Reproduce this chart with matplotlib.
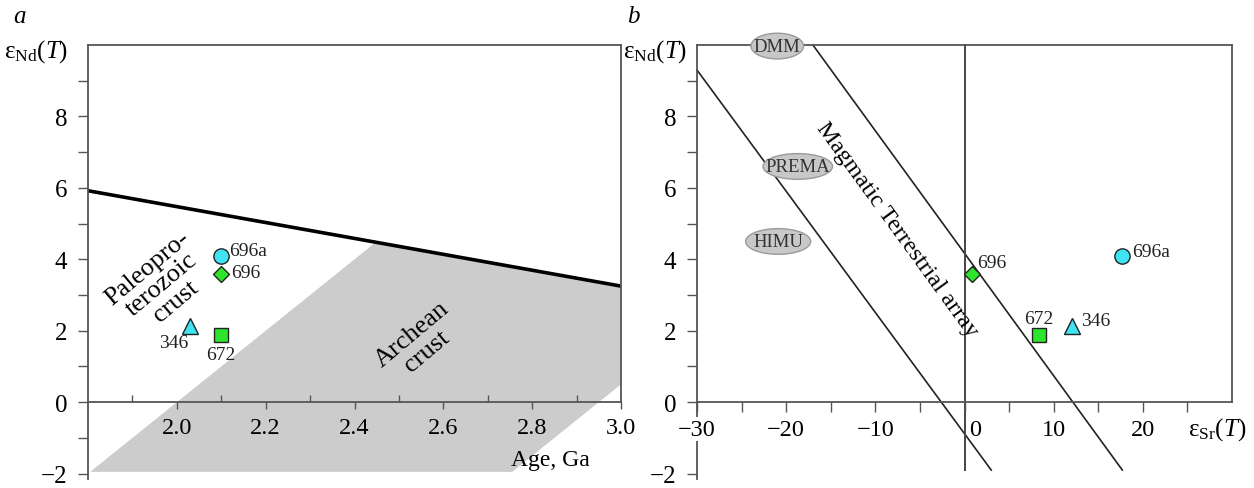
import matplotlib
matplotlib.use('Agg')
import matplotlib.pyplot as plt
from matplotlib.patches import Ellipse, Polygon
from matplotlib.ticker import FixedLocator
from matplotlib.transforms import ScaledTranslation

plt.rcParams['font.family'] = ['Liberation Serif', 'DejaVu Serif']
plt.rcParams['mathtext.fontset'] = 'custom'
plt.rcParams['mathtext.rm'] = 'Liberation Serif'
plt.rcParams['mathtext.it'] = 'Liberation Serif:italic'
plt.rcParams['font.size'] = 17
plt.rcParams['axes.unicode_minus'] = True

# ---------------- data ----------------
samples = ['696a', '696', '346', '672']
age_ga = [2.10, 2.10, 2.03, 2.10]
eps_nd = [4.10, 3.60, 2.13, 1.88]
eps_sr = [17.7, 0.8, 12.0, 8.3]

# depleted-mantle evolution line (panel a)
dm_age = [1.8, 3.0]
dm_eps = [5.92, 3.25]

# Archean crust field (panel a)
archean_age = [1.805, 2.448, 3.0, 3.0, 2.755]
archean_eps = [-1.95, 4.48, 3.25, 0.5, -1.95]

# mantle array boundaries (panel b)
mta_lo_sr = [-30.0, 3.0]
mta_lo_nd = [9.3, -1.9]
mta_hi_sr = [-17.0, 17.7]
mta_hi_nd = [10.0, -1.9]

# mantle reservoirs (panel b)
reservoirs = ['DMM', 'PREMA', 'HIMU']
res_sr = [-21.0, -18.7, -20.9]
res_nd = [9.97, 6.6, 4.5]

a_xticks = [2.0, 2.2, 2.4, 2.6, 2.8, 3.0]
a_xticklabels = ['2.0', '2.2', '2.4', '2.6', '2.8', '3.0']
a_xminor = [1.9, 2.1, 2.3, 2.5, 2.7, 2.9]
b_xticks = [-30, -20, -10, 0, 10, 20]
b_xticklabels = ['\u221230', '\u221220', '\u221210', '0', '10', '20']
b_xminor = [-25, -15, -5, 5, 15, 25]
yticks = [-2, 0, 2, 4, 6, 8]
yticklabels = ['\u22122', '0', '2', '4', '6', '8']
yminor = [-1, 1, 3, 5, 7, 9]

# ---------------- styles ----------------
mk = ['o', 'D', '^', 's']
ms = [11, 8.5, 12, 10.5]
cols = ['#3fe3f2', '#2ee52e', '#3fe3f2', '#2ee52e']
spine_col = '#555555'
a_offsets = [((6, 4), 'left', 'center'), ((7, 1), 'left', 'center'),
             ((-12, -12), 'center', 'center'), ((0, -14), 'center', 'center')]
b_offsets = [((7, 3), 'left', 'center'), ((4, 8), 'left', 'center'),
             ((7, 4), 'left', 'center'), ((0, 12), 'center', 'center')]

W, H = 1254, 489
fig = plt.figure(figsize=(W / 100, H / 100), dpi=100)
axa = fig.add_axes([88 / W, 1 - 480 / H, (621 - 88) / W, (480 - 46) / H])
axb = fig.add_axes([697 / W, 1 - 480 / H, (1232 - 697) / W, (480 - 46) / H])


def style_axes(ax, xmin, xmax):
    ax.set_xlim(xmin, xmax)
    ax.set_ylim(-2.15, 10)
    for s in ax.spines.values():
        s.set_color(spine_col)
        s.set_linewidth(1.3)
    ax.spines['bottom'].set_position(('data', 0))
    ax.spines['right'].set_bounds(0, 10)
    ax.set_yticks(yticks, yticklabels)
    ax.yaxis.set_minor_locator(FixedLocator(yminor))
    ax.tick_params(axis='y', which='both', direction='out', length=7,
                   width=1, color=spine_col, pad=8)
    ax.tick_params(axis='y', labelsize=18)
    ax.set_facecolor('none')


# ---------------- panel a ----------------
style_axes(axa, 1.8, 3.0)
axa.set_xticks(a_xticks, a_xticklabels)
axa.xaxis.set_minor_locator(FixedLocator(a_xminor))
axa.tick_params(axis='x', which='major', direction='out', length=5, width=1,
                color=spine_col, pad=6, labelsize=17.5)
axa.tick_params(axis='x', which='minor', direction='in', length=5, width=1,
                color=spine_col)

axa.add_patch(Polygon(list(zip(archean_age, archean_eps)), closed=True,
                      facecolor='#cccccc', edgecolor='none', zorder=0.5))
axa.plot(dm_age, dm_eps, color='black', lw=2.6, solid_capstyle='butt', zorder=2)

for i in range(len(samples)):
    axa.plot(age_ga[i], eps_nd[i], marker=mk[i], ms=ms[i], color=cols[i],
             mec='#222222', mew=1, ls='none', zorder=4)
    off, ha, va = a_offsets[i]
    axa.annotate(samples[i], (age_ga[i], eps_nd[i]), xytext=off,
                 textcoords='offset points', ha=ha, va=va, fontsize=14,
                 color='#222222')

axa.text(1.965, 3.3, 'Paleopro-\nterozoic\ncrust', rotation=40, ha='center',
         va='center', rotation_mode='anchor', fontsize=19, linespacing=1.0,
         multialignment='center')
axa.text(2.546, 1.68, 'Archean\ncrust', rotation=40, ha='center', va='center',
         rotation_mode='anchor', fontsize=19, linespacing=1.0,
         multialignment='center')
axa.text(2.84, -1.6, 'Age, Ga', ha='center', va='center', fontsize=17)

# ---------------- panel b ----------------
style_axes(axb, -30, 30)
axb.set_xticks(b_xticks, b_xticklabels)
axb.xaxis.set_minor_locator(FixedLocator(b_xminor))
axb.tick_params(axis='x', which='both', direction='out', length=7, width=1,
                color=spine_col, pad=5, labelsize=17.5)
axb.xaxis.set_zorder(3)
axb.get_xticklabels()[0].set_bbox(dict(facecolor='white', edgecolor='none', pad=1))
zero_tick = axb.xaxis.get_major_ticks()[3]
zero_tick.label1.set_transform(zero_tick.label1.get_transform()
                               + ScaledTranslation(8 / 72, 0, fig.dpi_scale_trans))

axb.plot(mta_lo_sr, mta_lo_nd, color='#222222', lw=1.2, zorder=2, clip_on=False)
axb.plot(mta_hi_sr, mta_hi_nd, color='#222222', lw=1.2, zorder=2, clip_on=False)
axb.plot([0, 0], [-1.9, 10], color='#444444', lw=1.4, zorder=2, clip_on=False)

ell_w = [5.9, 7.8, 7.3]
for name, x, y, w in zip(reservoirs, res_sr, res_nd, ell_w):
    axb.add_patch(Ellipse((x, y), w, 0.72, facecolor='#c8c8c8',
                          edgecolor='#9a9a9a', lw=1, zorder=5, clip_on=False))
    axb.text(x, y, name, ha='center', va='center', fontsize=13.5,
             color='#333333', zorder=6)

for i in range(len(samples)):
    axb.plot(eps_sr[i], eps_nd[i], marker=mk[i], ms=ms[i], color=cols[i],
             mec='#222222', mew=1, ls='none', zorder=4)
    off, ha, va = b_offsets[i]
    axb.annotate(samples[i], (eps_sr[i], eps_nd[i]), xytext=off,
                 textcoords='offset points', ha=ha, va=va, fontsize=14,
                 color='#222222')

axb.text(-7.6, 4.85, 'Magmatic Terrestrial array', rotation=-54, ha='center',
         va='center', rotation_mode='anchor', fontsize=17.5)
axb.text(28.3, -0.75, '\u03b5$_{\\mathregular{Sr}}$($\\mathit{T}$)',
         ha='center', va='center', fontsize=18)

# axis titles and panel letters
ylab = '\u03b5$_{\\mathregular{Nd}}$($\\mathit{T}$)'
fig.text(68 / W, 1 - 52 / H, ylab, ha='right', va='center', fontsize=18)
fig.text(687 / W, 1 - 52 / H, ylab, ha='right', va='center', fontsize=18)
fig.text(20 / W, 1 - 17 / H, 'a', ha='center', va='center', fontsize=18,
         style='italic')
fig.text(633 / W, 1 - 17 / H, 'b', ha='center', va='center', fontsize=18,
         style='italic')

fig.savefig('out.png', dpi=100, facecolor='white')
